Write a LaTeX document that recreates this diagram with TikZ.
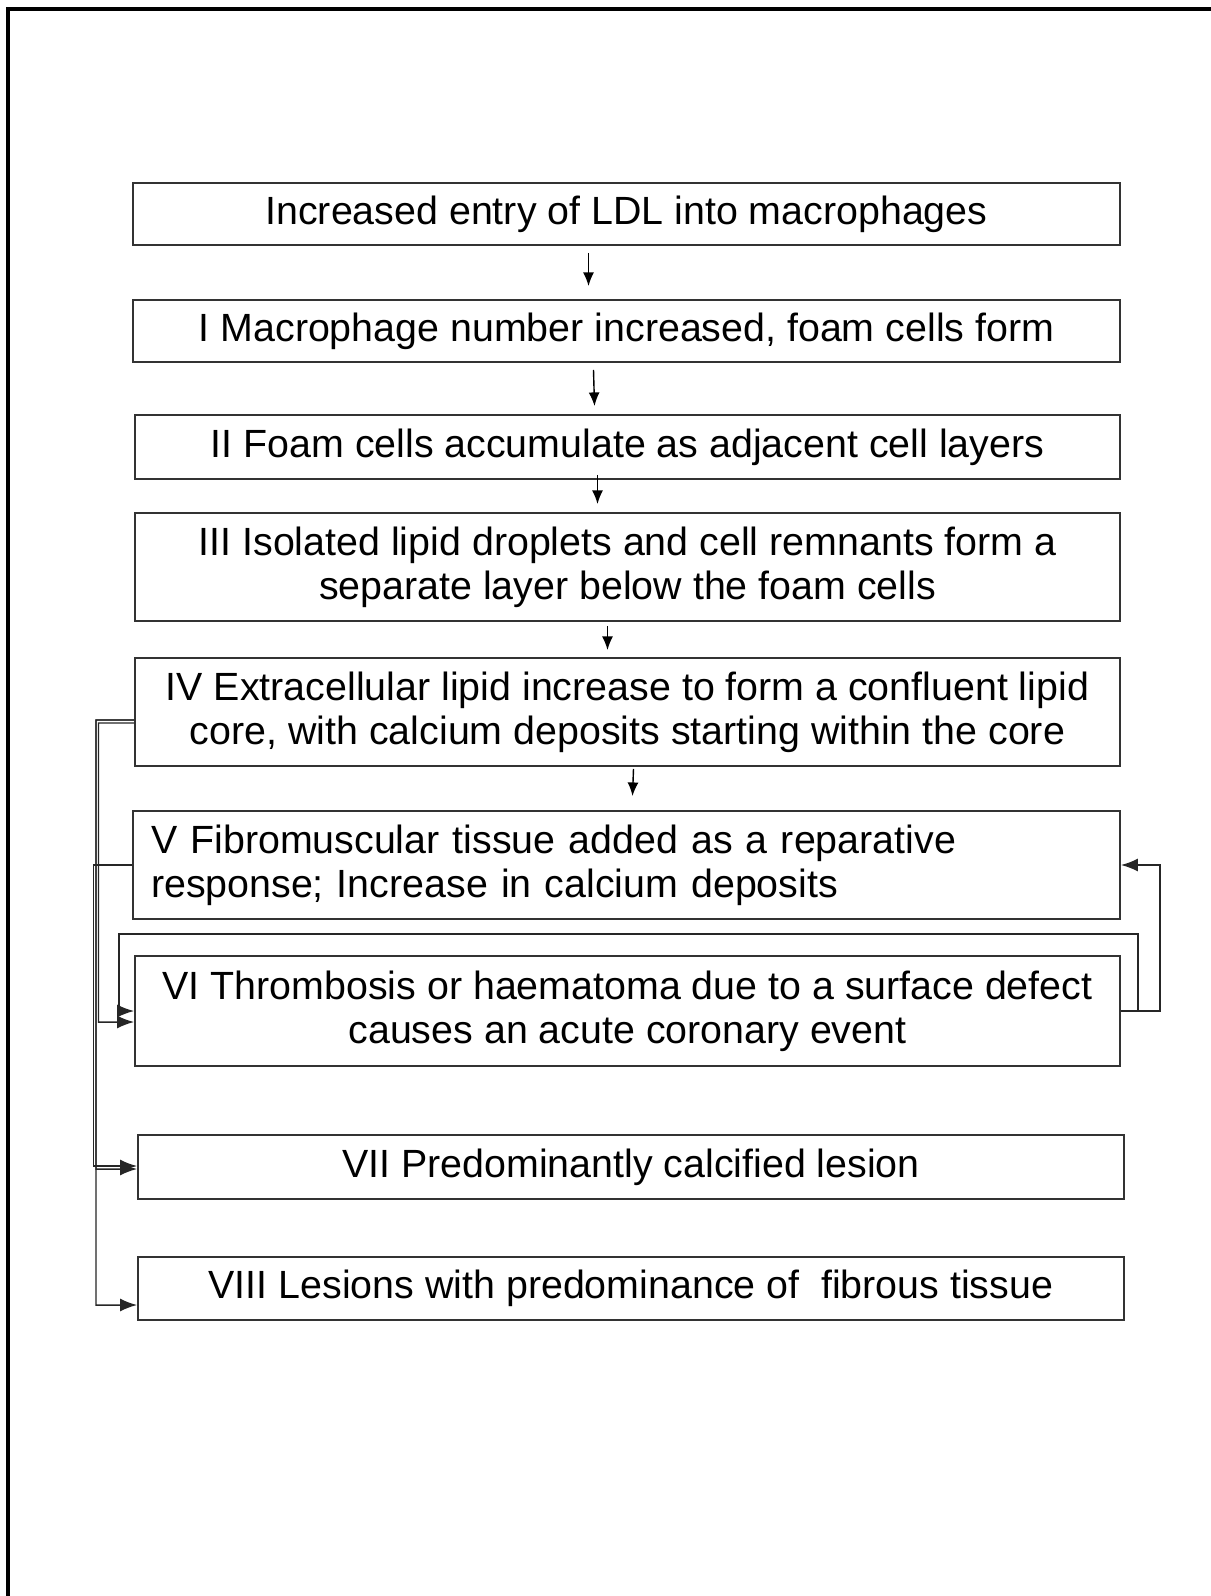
\documentclass[tikz,border=0pt]{standalone}
\usepackage{fontspec}
\setmainfont{Liberation Sans}
\usetikzlibrary{arrows.meta}
\begin{document}
\begin{tikzpicture}[x=0.05cm,y=-0.05cm,
  stagebox/.style={draw=black!80,line width=2.8pt,inner sep=0pt,
    font=\fontsize{56}{62.6}\selectfont,align=center},
  flow/.style={line width=2pt,-{Latex[length=0.68cm,width=0.55cm]}},
  conn/.style={line width=2.1pt,black!85,-{Latex[length=0.85cm,width=0.65cm]}}]
\useasboundingbox (0,0) rectangle (1211,1596);
\fill[white] (0,0) rectangle (1211,1596);
% outer frame (top and left visible)
\draw[line width=4.3pt] (8,1596) -- (8,9) -- (1211,9);
% boxes
\node[stagebox,minimum width=49.35cm,minimum height=3.1cm] (b0) at (626.5,214)
  {Increased entry of LDL into macrophages};
\node[stagebox,minimum width=49.35cm,minimum height=3.1cm] (b1) at (626.5,331)
  {I Macrophage number increased, foam cells form};
\node[stagebox,minimum width=49.25cm,minimum height=3.2cm] (b2) at (627.5,447)
  {II Foam cells accumulate as adjacent cell layers};
\node[stagebox,minimum width=49.25cm,minimum height=5.4cm] (b3) at (627.5,567)
  {III Isolated lipid droplets and cell remnants form a\\separate layer below the foam cells};
\node[stagebox,minimum width=49.25cm,minimum height=5.4cm] (b4) at (627.5,712)
  {IV Extracellular lipid increase to form a confluent lipid\\core, with calcium deposits starting within the core};
\node[stagebox,minimum height=5.4cm,text width=47.55cm,inner xsep=0.9cm,align=left] (b5) at (626.5,865)
  {V Fibromuscular tissue added as a reparative\\response; Increase in calcium deposits};
\node[stagebox,minimum width=49.25cm,minimum height=5.5cm] (b6) at (627.5,1011)
  {VI Thrombosis or haematoma due to a surface defect\\causes an acute coronary event};
\node[stagebox,minimum width=49.3cm,minimum height=3.2cm] (b7) at (631,1167)
  {VII Predominantly calcified lesion};
\node[stagebox,minimum width=49.3cm,minimum height=3.15cm] (b8) at (631,1288.5)
  {VIII Lesions with predominance of \ fibrous tissue};
% vertical flow arrows
\draw[flow] ([xshift=-1.9cm,yshift=-0.35cm]b0.south) -- ([xshift=-1.9cm,yshift=0.65cm]b1.north);
\draw[flow] ([xshift=-1.65cm,yshift=-0.35cm]b1.south) -- ([xshift=-1.65cm,yshift=0.4cm]b2.north);
\draw[flow] ([xshift=-1.5cm,yshift=0.25cm]b2.south) -- ([xshift=-1.5cm,yshift=0.4cm]b3.north);
\draw[flow] ([xshift=-1.0cm,yshift=-0.2cm]b3.south) -- ([xshift=-1.0cm,yshift=0.35cm]b4.north);
\draw[flow] ([xshift=0.3cm,yshift=-0.1cm]b4.south) -- ([xshift=0.3cm,yshift=0.7cm]b5.north);
% left connectors
\draw[conn] ([yshift=-0.4cm]b4.west) -- (96,720) |- ([yshift=-0.825cm]b8.west);
\draw[conn] ([yshift=-0.4cm]b4.west) -- (96,720) |- ([yshift=-0.1cm]b7.west);
\draw[conn] ([yshift=-0.55cm]b4.west) -- (98.5,723) |- ([yshift=-0.55cm]b6.west);
\draw[conn] (b5.west) -- (93.5,865) |- ([yshift=0.05cm]b7.west);
% right loops
\draw[conn] (b6.east) -- ++(39,0) |- (b5.east);
\draw[conn] (b6.east) -- ++(17,0) |- (119,934) |- (b6.west);
\end{tikzpicture}
\end{document}
